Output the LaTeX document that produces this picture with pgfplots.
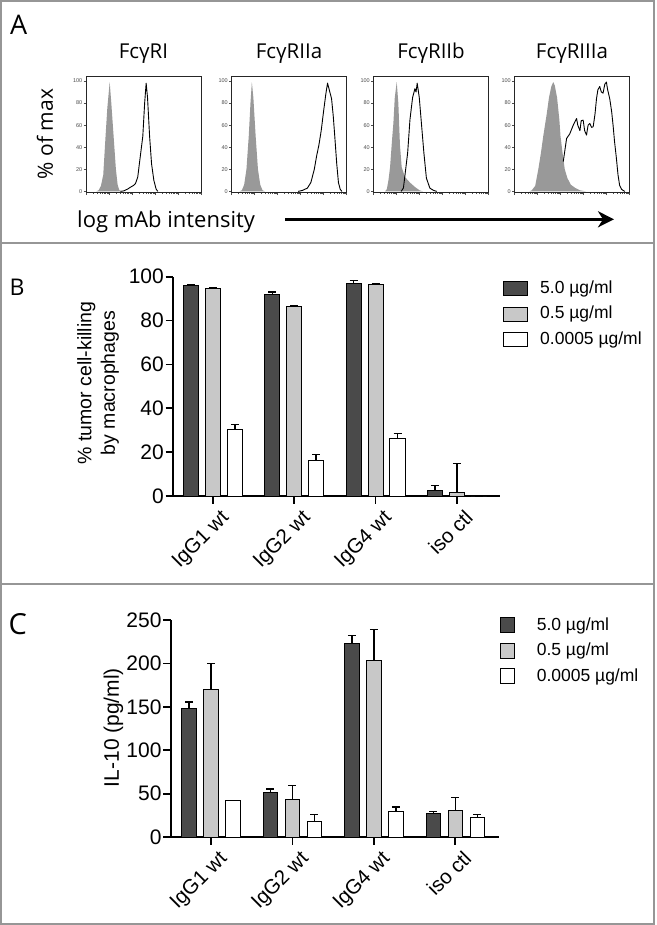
\documentclass[border=0pt]{standalone}
\usepackage{pgfplots}
\pgfplotsset{compat=1.18}
\usepackage{pgfplotstable}
\usepackage{fontspec}
\setmainfont{Liberation Sans}
\newfontfamily\myr{Open Sans}
\usetikzlibrary{arrows.meta}
\definecolor{darkbar}{RGB}{74,74,74}
\definecolor{lightbar}{RGB}{200,200,200}
\definecolor{histgray}{RGB}{153,153,153}
\definecolor{framegray}{RGB}{150,150,150}
\newcommand\fs[1]{\fontsize{#1}{#1}\selectfont}

% Panel B: % tumor cell-killing
\pgfplotstableread{
dark derr light lerr white werr
95.9 0.3 94.4 0.6 30.5 2.2
92.1 0.9 86.5 0.4 16.3 2.5
97.0 1.3 96.5 0.3 26.4 2.2
2.7  2.0 1.7  13.2 0   0
}\tabB
% Panel C: IL-10 (pg/ml)
\pgfplotstableread{
dark derr light lerr white werr
148.3 7.2 170.5 29.5 42.3 0
51.8  3.5 43.4  16.2 18.0 7.7
223.2 8.7 202.8 36.1 29.6 5.0
27.6  2.0 30.7  14.6 23.0 2.7
}\tabC

\pgfplotsset{
  histax/.style={scale only axis, width=115pt, height=116.5pt,
    xmin=0, xmax=100, ymin=-1, ymax=104.5,
    axis line style={line width=0.7pt, black!85},
    xtick={0,20,40,60,80,100}, xticklabels={},
    minor xtick={6.02,9.54,12.04,13.98,15.56,16.9,18.06,19.08,
      26.02,29.54,32.04,33.98,35.56,36.9,38.06,39.08,
      46.02,49.54,52.04,53.98,55.56,56.9,58.06,59.08,
      66.02,69.54,72.04,73.98,75.56,76.9,78.06,79.08,
      86.02,89.54,92.04,93.98,95.56,96.9,98.06,99.08},
    ytick={0,20,40,60,80,100},
    tick align=outside, xtick pos=bottom, ytick pos=left,
    major tick length=2.5pt, minor tick length=1.5pt,
    tick style={line width=0.4pt, black!70},
    yticklabel style={font=\fs{5.5}, text=black!70, inner sep=1pt},
    /pgf/number format/assume math mode=true,
    title style={font=\myr\fs{20.5}, anchor=base, at={(0.5,1)}, yshift=11pt}},
  barax/.style={scale only axis, axis lines*=left,
    axis line style={line width=1.8pt, black},
    xtick={0,1,2,3}, xticklabels={IgG1 wt,IgG2 wt,IgG4 wt,iso ctl},
    tick align=outside, major tick length=7.5pt,
    tick style={line width=1.8pt, black},
    yticklabel style={font=\fs{21}, inner sep=1.5pt},
    xticklabel style={font=\fs{20.5}, rotate=45, anchor=north east, inner sep=2pt, xshift=3.5pt, yshift=-6pt},
    /pgf/number format/assume math mode=true, clip=false,
    legend cell align=left},
  errs/.style={error bars/.cd, y dir=plus, y explicit,
    error bar style={line width=1.4pt, black},
    error mark options={rotate=90, mark size=4pt, line width=1.4pt, black}},
  legB/.style={legend image code/.code={\draw[##1] (0pt,-7pt) rectangle (24pt,7pt);}},
  legC/.style={legend image code/.code={\draw[##1] (0pt,-7.5pt) rectangle (14.3pt,7.5pt);}}
}

\begin{document}
\begin{tikzpicture}
\useasboundingbox (0pt,0pt) rectangle (656pt,-925pt);
\fill[white] (0pt,0pt) rectangle (656pt,-925pt);
% frames
\draw[framegray, line width=2pt] (1pt,-1pt) rectangle (654pt,-924pt);
\draw[framegray, line width=2pt] (1pt,-242.5pt) -- (654pt,-242.5pt);
\draw[framegray, line width=2pt] (1pt,-584pt) -- (654pt,-584pt);

% ---------------- Panel A ----------------
\node[anchor=base west, inner sep=0pt, font=\myr\fs{27}] at (10pt,-34.5pt) {A};
\node[rotate=90, inner sep=0pt, font=\myr\fs{21}] at (45pt,-134pt) {\% of max};
\node[anchor=base west, inner sep=0pt, font=\myr\fs{22}] at (77pt,-228pt) {log mAb intensity};
\draw[line width=3.3pt, -{Stealth[length=16pt, width=16pt, inset=5pt]}] (285pt,-219.3pt) -- (614pt,-219.3pt);

\begin{axis}[histax, at={(86pt,-192.5pt)}, anchor=south west, title={FcγRI}]
\addplot[fill=histgray, draw=none] coordinates {(9,0)(11,1)(13,5)(15,15)(17,50)(18.5,75)(20.6,99)(22,80)(24,50)(26,20)(27.5,6)(29,1)(31,0)} \closedcycle;
\addplot[black, line width=0.9pt, line join=round] coordinates {(30,0)(33,0.5)(36,2)(39,4)(41.5,5.5)(43,7)(45,13)(47,30)(49.4,50)(51,80)(52.3,98)(53.5,85)(55.3,50)(57,25)(59,10)(61,2)(62.5,0)};
\end{axis}

\begin{axis}[histax, at={(231.5pt,-192.5pt)}, anchor=south west, title={FcγRIIa}]
\addplot[fill=histgray, draw=none] coordinates {(7,0)(9,1)(11,6)(13,20)(15,50)(16.5,80)(17.7,99)(19,85)(21,50)(23,20)(25,6)(27,1)(29,0)} \closedcycle;
\addplot[black, line width=0.9pt, line join=round] coordinates {(58,0)(62,1)(66,3)(69,8)(72,20)(74,32)(76,42)(78,55)(80,72)(82,88)(83.5,98)(85,92)(87,84)(88.5,68)(90,47)(91.5,25)(93,8)(94.5,2)(96,0)};
\end{axis}

\begin{axis}[histax, at={(373.5pt,-192.5pt)}, anchor=south west, title={FcγRIIb}]
\addplot[fill=histgray, draw=none] coordinates {(10,0)(11.6,2)(13,10)(14.4,22)(16,45)(17.3,62)(18.5,85)(20.2,99)(21.6,80)(23,42)(24.5,22)(27.4,13)(31.7,8)(36,4)(40,1)(43,0)} \closedcycle;
\addplot[black, line width=0.9pt, line join=round] coordinates {(24,0)(26,3)(27.4,15)(29.7,35)(31.7,65)(34,85)(36,93)(37,90)(38,98)(39.8,85)(41.8,60)(43.8,35)(46,12)(49,3)(52,1)(55,0)};
\end{axis}

\begin{axis}[histax, at={(514.5pt,-192.5pt)}, anchor=south west, title={FcγRIIIa}]
\addplot[fill=histgray, draw=none] coordinates {(13,0)(15,1)(18,5)(20.7,20)(23,35)(25,50)(28,70)(30,85)(32,95)(33.7,99)(35,96)(37,85)(39,65)(40,50)(42,33)(43.7,20)(46,12)(49,6)(53,3)(57,1)(62,0)} \closedcycle;
\addplot[black, line width=0.9pt, line join=round] coordinates {(42.4,27)(45.3,48)(48,52)(51.1,60)(52.5,63)(54,66)(55,60)(56.9,55)(58,64)(59.7,64.5)(61,55)(62.6,51)(64,60)(65.5,61.5)(67,58)(68.4,58.5)(70,70)(71.3,84)(72.5,92)(74.1,95)(75.5,90)(77,89)(78.5,97)(79.9,99)(81,92)(82.8,84)(84.5,72)(85.7,60)(87,45)(88.6,30)(90,15)(91.4,5.5)(93,2)(94.3,1)(96,0)};
\end{axis}

% ---------------- Panel B ----------------
\node[anchor=base west, inner sep=0pt, font=\myr\fs{23}] at (9.5pt,-295pt) {B};
\node[rotate=90, align=center, inner sep=0pt, font=\fontsize{19.5}{23.5}\selectfont] at (98pt,-383pt) {\% tumor cell-killing\\by macrophages};
\begin{axis}[barax, at={(173pt,-496pt)}, anchor=south west, width=327pt, height=219.3pt,
  xmin=-0.49, xmax=3.53, ymin=0, ymax=100, ytick={0,20,40,60,80,100},
  legend style={at={(axis description cs:1,1)}, anchor=north west, xshift=2.7pt, yshift=-3pt,
    draw=none, fill=none, inner sep=0pt, font=\fs{17.5}, row sep=8pt,
    nodes={inner sep=0pt, text height=13.5pt, text depth=4pt},
    /tikz/every odd column/.append style={column sep=12.3pt}}]
\addplot[ybar, bar width=0.185, bar shift=0pt, fill=darkbar, draw=black, line width=1pt, legB, errs]
  table[x expr=\coordindex-0.27, y=dark, y error=derr] {\tabB};
\addlegendentry{5.0 µg/ml}
\addplot[ybar, bar width=0.185, bar shift=0pt, fill=lightbar, draw=black, line width=1pt, legB, errs]
  table[x expr=\coordindex, y=light, y error=lerr] {\tabB};
\addlegendentry{0.5 µg/ml}
\addplot[ybar, bar width=0.185, bar shift=0pt, fill=white, draw=black, line width=1pt, legB, errs]
  table[x expr=\coordindex+0.27, y=white, y error=werr] {\tabB};
\addlegendentry{0.0005 µg/ml}
\end{axis}

% ---------------- Panel C ----------------
\node[anchor=base west, inner sep=0pt, font=\myr\fs{29}] at (8.5pt,-634pt) {C};
\node[rotate=90, inner sep=0pt, font=\fs{21}] at (113.5pt,-727.5pt) {IL-10 (pg/ml)};
\begin{axis}[barax, at={(170.7pt,-837pt)}, anchor=south west, width=328.6pt, height=217pt,
  xmin=-0.495, xmax=3.54, ymin=0, ymax=250, ytick={0,50,100,150,200,250},
  legend style={at={(axis description cs:1,1)}, anchor=north west, xshift=0pt, yshift=3.5pt,
    draw=none, fill=none, inner sep=0pt, font=\fs{17.5}, row sep=8pt,
    nodes={inner sep=0pt, text height=13.5pt, text depth=4pt},
    /tikz/every odd column/.append style={column sep=22pt}}]
\addplot[ybar, bar width=0.178, bar shift=0pt, fill=darkbar, draw=black, line width=1pt, legC, errs]
  table[x expr=\coordindex-0.27, y=dark, y error=derr] {\tabC};
\addlegendentry{5.0 µg/ml}
\addplot[ybar, bar width=0.178, bar shift=0pt, fill=lightbar, draw=black, line width=1pt, legC, errs]
  table[x expr=\coordindex, y=light, y error=lerr] {\tabC};
\addlegendentry{0.5 µg/ml}
\addplot[ybar, bar width=0.178, bar shift=0pt, fill=white, draw=black, line width=1pt, legC, errs]
  table[x expr=\coordindex+0.27, y=white, y error=werr] {\tabC};
\addlegendentry{0.0005 µg/ml}
\end{axis}
\end{tikzpicture}
\end{document}
